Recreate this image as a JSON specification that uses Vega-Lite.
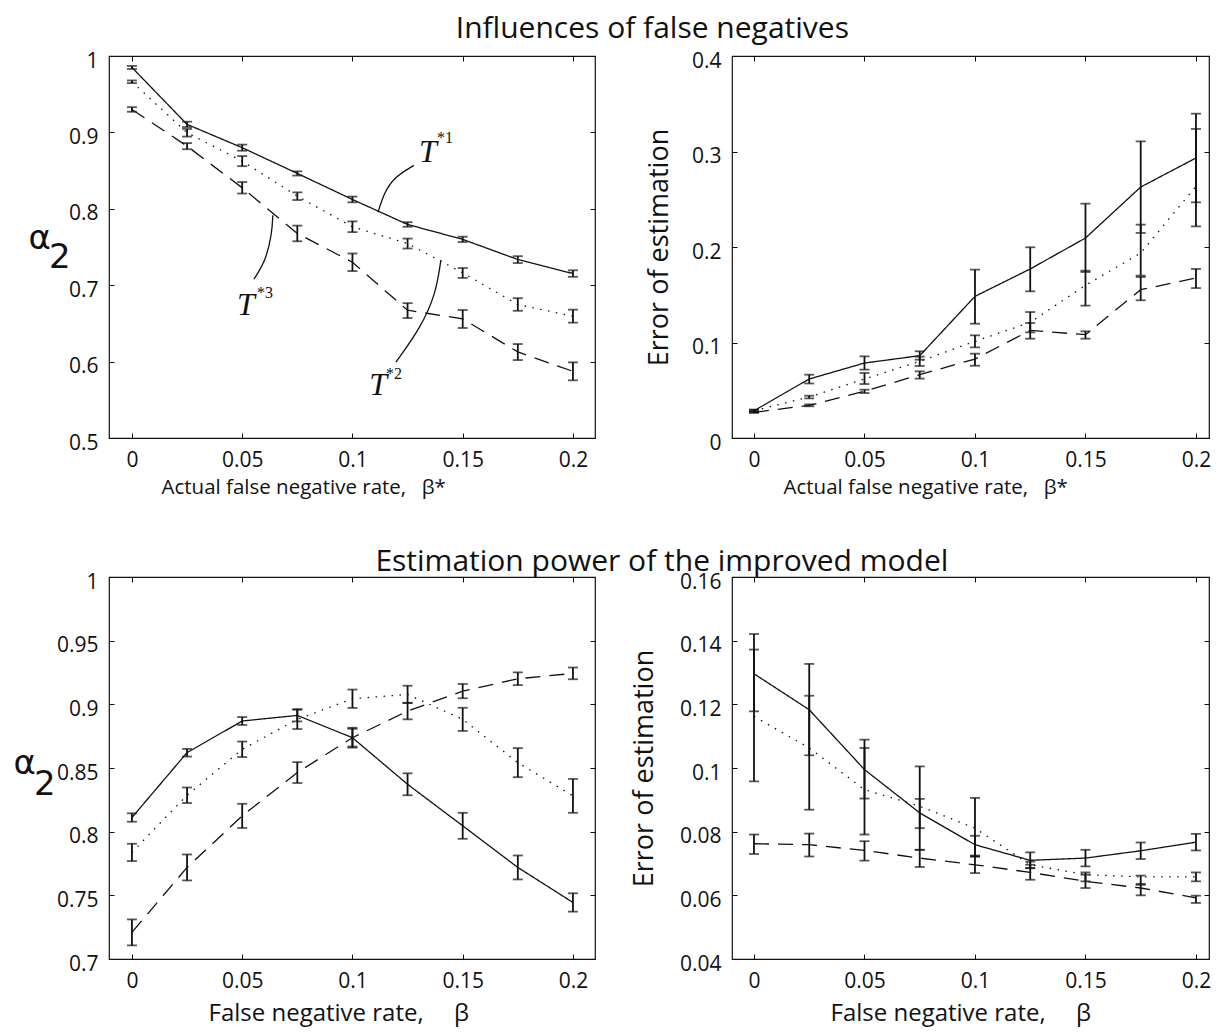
{
  "$schema": "https://vega.github.io/schema/vega-lite/v6.json",
  "padding": {"left": 12, "top": 14, "right": 10, "bottom": 2},
  "background": "white",
  "config": {
    "view": {"stroke": "#111", "strokeWidth": 1.2},
    "axis": {"grid": false, "domain": false, "tickSize": -5, "tickColor": "#111", "tickWidth": 1, "labelColor": "#111", "labelFontSize": 21, "labelFont": "Open Sans", "titleFont": "Open Sans", "titleFontSize": 22, "titleFontWeight": "normal", "titleColor": "#111", "labelPadding": 16},
    "axisY": {"labelOffset": 5},
    "title": {"font": "Open Sans", "fontSize": 30, "fontWeight": "normal", "color": "#111", "anchor": "middle"}
  },
  "datasets": {
    "d": [
      {"p":"TL","s":"T1","x":0,"y":0.985,"lo":0.983,"hi":0.987},
      {"p":"TL","s":"T1","x":0.025,"y":0.9105,"lo":0.907,"hi":0.914},
      {"p":"TL","s":"T1","x":0.05,"y":0.88,"lo":0.876,"hi":0.884},
      {"p":"TL","s":"T1","x":0.075,"y":0.8463,"lo":0.8435,"hi":0.849},
      {"p":"TL","s":"T1","x":0.1,"y":0.8122,"lo":0.8085,"hi":0.816},
      {"p":"TL","s":"T1","x":0.125,"y":0.7795,"lo":0.7765,"hi":0.7825},
      {"p":"TL","s":"T1","x":0.15,"y":0.76,"lo":0.7565,"hi":0.7635},
      {"p":"TL","s":"T1","x":0.175,"y":0.7336,"lo":0.729,"hi":0.738},
      {"p":"TL","s":"T1","x":0.2,"y":0.7153,"lo":0.711,"hi":0.7195},
      {"p":"TL","s":"T2","x":0,"y":0.9664,"lo":0.9645,"hi":0.968},
      {"p":"TL","s":"T2","x":0.025,"y":0.8996,"lo":0.8945,"hi":0.9045},
      {"p":"TL","s":"T2","x":0.05,"y":0.8624,"lo":0.8558,"hi":0.869},
      {"p":"TL","s":"T2","x":0.075,"y":0.8166,"lo":0.8115,"hi":0.8215},
      {"p":"TL","s":"T2","x":0.1,"y":0.7764,"lo":0.7695,"hi":0.7835},
      {"p":"TL","s":"T2","x":0.125,"y":0.7546,"lo":0.748,"hi":0.761},
      {"p":"TL","s":"T2","x":0.15,"y":0.7162,"lo":0.7095,"hi":0.7225},
      {"p":"TL","s":"T2","x":0.175,"y":0.6747,"lo":0.6665,"hi":0.683},
      {"p":"TL","s":"T2","x":0.2,"y":0.6594,"lo":0.651,"hi":0.668},
      {"p":"TL","s":"T3","x":0,"y":0.93,"lo":0.927,"hi":0.933},
      {"p":"TL","s":"T3","x":0.025,"y":0.882,"lo":0.878,"hi":0.886},
      {"p":"TL","s":"T3","x":0.05,"y":0.8275,"lo":0.82,"hi":0.835},
      {"p":"TL","s":"T3","x":0.075,"y":0.7677,"lo":0.7575,"hi":0.778},
      {"p":"TL","s":"T3","x":0.1,"y":0.7301,"lo":0.7185,"hi":0.7415},
      {"p":"TL","s":"T3","x":0.125,"y":0.6672,"lo":0.657,"hi":0.6765},
      {"p":"TL","s":"T3","x":0.15,"y":0.6559,"lo":0.644,"hi":0.6675},
      {"p":"TL","s":"T3","x":0.175,"y":0.6127,"lo":0.602,"hi":0.623},
      {"p":"TL","s":"T3","x":0.2,"y":0.5873,"lo":0.5755,"hi":0.599},

      {"p":"TR","s":"T1","x":0,"y":0.0286,"lo":0.0276,"hi":0.0296},
      {"p":"TR","s":"T1","x":0.025,"y":0.0618,"lo":0.0571,"hi":0.0663},
      {"p":"TR","s":"T1","x":0.05,"y":0.0785,"lo":0.0716,"hi":0.0855},
      {"p":"TR","s":"T1","x":0.075,"y":0.0862,"lo":0.082,"hi":0.0908},
      {"p":"TR","s":"T1","x":0.1,"y":0.1483,"lo":0.1197,"hi":0.1763},
      {"p":"TR","s":"T1","x":0.125,"y":0.177,"lo":0.1536,"hi":0.1997},
      {"p":"TR","s":"T1","x":0.15,"y":0.2094,"lo":0.1738,"hi":0.2454},
      {"p":"TR","s":"T1","x":0.175,"y":0.2628,"lo":0.2147,"hi":0.3106},
      {"p":"TR","s":"T1","x":0.2,"y":0.2932,"lo":0.2468,"hi":0.3396},
      {"p":"TR","s":"T2","x":0,"y":0.0286,"lo":0.0276,"hi":0.0296},
      {"p":"TR","s":"T2","x":0.025,"y":0.0429,"lo":0.0415,"hi":0.0443},
      {"p":"TR","s":"T2","x":0.05,"y":0.0618,"lo":0.0565,"hi":0.0681},
      {"p":"TR","s":"T2","x":0.075,"y":0.0803,"lo":0.0754,"hi":0.0852},
      {"p":"TR","s":"T2","x":0.1,"y":0.1012,"lo":0.0949,"hi":0.1075},
      {"p":"TR","s":"T2","x":0.125,"y":0.1211,"lo":0.1106,"hi":0.1319},
      {"p":"TR","s":"T2","x":0.15,"y":0.1599,"lo":0.1386,"hi":0.1752},
      {"p":"TR","s":"T2","x":0.175,"y":0.1937,"lo":0.17,"hi":0.2234},
      {"p":"TR","s":"T2","x":0.2,"y":0.2635,"lo":0.2216,"hi":0.3236},
      {"p":"TR","s":"T3","x":0,"y":0.0269,"lo":0.0262,"hi":0.0276},
      {"p":"TR","s":"T3","x":0.025,"y":0.0342,"lo":0.0332,"hi":0.0352},
      {"p":"TR","s":"T3","x":0.05,"y":0.0489,"lo":0.0471,"hi":0.0506},
      {"p":"TR","s":"T3","x":0.075,"y":0.0663,"lo":0.0622,"hi":0.0698},
      {"p":"TR","s":"T3","x":0.1,"y":0.0827,"lo":0.0757,"hi":0.0883},
      {"p":"TR","s":"T3","x":0.125,"y":0.1127,"lo":0.104,"hi":0.1204},
      {"p":"TR","s":"T3","x":0.15,"y":0.1082,"lo":0.104,"hi":0.1117},
      {"p":"TR","s":"T3","x":0.175,"y":0.1553,"lo":0.1442,"hi":0.1686},
      {"p":"TR","s":"T3","x":0.2,"y":0.1675,"lo":0.157,"hi":0.177},

      {"p":"BL","s":"T1","x":0,"y":0.8111,"lo":0.8078,"hi":0.8144},
      {"p":"BL","s":"T1","x":0.025,"y":0.8621,"lo":0.859,"hi":0.865},
      {"p":"BL","s":"T1","x":0.05,"y":0.8869,"lo":0.8838,"hi":0.89},
      {"p":"BL","s":"T1","x":0.075,"y":0.8913,"lo":0.8866,"hi":0.8962},
      {"p":"BL","s":"T1","x":0.1,"y":0.8738,"lo":0.866,"hi":0.8816},
      {"p":"BL","s":"T1","x":0.125,"y":0.8372,"lo":0.8286,"hi":0.8458},
      {"p":"BL","s":"T1","x":0.15,"y":0.8046,"lo":0.7944,"hi":0.8148},
      {"p":"BL","s":"T1","x":0.175,"y":0.7719,"lo":0.7625,"hi":0.7813},
      {"p":"BL","s":"T1","x":0.2,"y":0.7444,"lo":0.7372,"hi":0.7516},
      {"p":"BL","s":"T2","x":0,"y":0.7837,"lo":0.7769,"hi":0.7905},
      {"p":"BL","s":"T2","x":0.025,"y":0.8286,"lo":0.8225,"hi":0.8347},
      {"p":"BL","s":"T2","x":0.05,"y":0.8647,"lo":0.8586,"hi":0.8708},
      {"p":"BL","s":"T2","x":0.075,"y":0.8882,"lo":0.8806,"hi":0.8958},
      {"p":"BL","s":"T2","x":0.1,"y":0.9044,"lo":0.8972,"hi":0.9116},
      {"p":"BL","s":"T2","x":0.125,"y":0.9078,"lo":0.901,"hi":0.9146},
      {"p":"BL","s":"T2","x":0.15,"y":0.8882,"lo":0.8791,"hi":0.8973},
      {"p":"BL","s":"T2","x":0.175,"y":0.8542,"lo":0.8428,"hi":0.8656},
      {"p":"BL","s":"T2","x":0.2,"y":0.8281,"lo":0.8148,"hi":0.8414},
      {"p":"BL","s":"T3","x":0,"y":0.7209,"lo":0.7107,"hi":0.7311},
      {"p":"BL","s":"T3","x":0.025,"y":0.7719,"lo":0.7617,"hi":0.7821},
      {"p":"BL","s":"T3","x":0.05,"y":0.8124,"lo":0.8029,"hi":0.8219},
      {"p":"BL","s":"T3","x":0.075,"y":0.8464,"lo":0.8382,"hi":0.8546},
      {"p":"BL","s":"T3","x":0.1,"y":0.8738,"lo":0.8668,"hi":0.8808},
      {"p":"BL","s":"T3","x":0.125,"y":0.8947,"lo":0.8882,"hi":0.9012},
      {"p":"BL","s":"T3","x":0.15,"y":0.9104,"lo":0.9048,"hi":0.916},
      {"p":"BL","s":"T3","x":0.175,"y":0.9201,"lo":0.9151,"hi":0.9251},
      {"p":"BL","s":"T3","x":0.2,"y":0.9243,"lo":0.9197,"hi":0.9289},

      {"p":"BR","s":"T1","x":0,"y":0.1296,"lo":0.1178,"hi":0.1372},
      {"p":"BR","s":"T1","x":0.025,"y":0.1183,"lo":0.104,"hi":0.1227},
      {"p":"BR","s":"T1","x":0.05,"y":0.0995,"lo":0.0904,"hi":0.1063},
      {"p":"BR","s":"T1","x":0.075,"y":0.0859,"lo":0.0811,"hi":0.0903},
      {"p":"BR","s":"T1","x":0.1,"y":0.0759,"lo":0.0722,"hi":0.0787},
      {"p":"BR","s":"T1","x":0.125,"y":0.071,"lo":0.0685,"hi":0.0735},
      {"p":"BR","s":"T1","x":0.15,"y":0.0717,"lo":0.0691,"hi":0.0743},
      {"p":"BR","s":"T1","x":0.175,"y":0.074,"lo":0.0714,"hi":0.0766},
      {"p":"BR","s":"T1","x":0.2,"y":0.0767,"lo":0.0741,"hi":0.0793},
      {"p":"BR","s":"T2","x":0,"y":0.1162,"lo":0.0958,"hi":0.1421},
      {"p":"BR","s":"T2","x":0.025,"y":0.1063,"lo":0.0869,"hi":0.1327},
      {"p":"BR","s":"T2","x":0.05,"y":0.0932,"lo":0.0791,"hi":0.1089},
      {"p":"BR","s":"T2","x":0.075,"y":0.088,"lo":0.0743,"hi":0.1005},
      {"p":"BR","s":"T2","x":0.1,"y":0.0811,"lo":0.0722,"hi":0.0906},
      {"p":"BR","s":"T2","x":0.125,"y":0.0696,"lo":0.0686,"hi":0.0706},
      {"p":"BR","s":"T2","x":0.15,"y":0.0665,"lo":0.0644,"hi":0.0672},
      {"p":"BR","s":"T2","x":0.175,"y":0.0658,"lo":0.0633,"hi":0.0662},
      {"p":"BR","s":"T2","x":0.2,"y":0.0658,"lo":0.0644,"hi":0.0672},
      {"p":"BR","s":"T3","x":0,"y":0.0762,"lo":0.073,"hi":0.0791},
      {"p":"BR","s":"T3","x":0.025,"y":0.0759,"lo":0.0722,"hi":0.0794},
      {"p":"BR","s":"T3","x":0.05,"y":0.0741,"lo":0.0709,"hi":0.077},
      {"p":"BR","s":"T3","x":0.075,"y":0.0717,"lo":0.0689,"hi":0.0743},
      {"p":"BR","s":"T3","x":0.1,"y":0.0696,"lo":0.067,"hi":0.0725},
      {"p":"BR","s":"T3","x":0.125,"y":0.0672,"lo":0.0649,"hi":0.0696},
      {"p":"BR","s":"T3","x":0.15,"y":0.0644,"lo":0.0623,"hi":0.0665},
      {"p":"BR","s":"T3","x":0.175,"y":0.0623,"lo":0.06,"hi":0.0636},
      {"p":"BR","s":"T3","x":0.2,"y":0.0592,"lo":0.0576,"hi":0.0599}
    ],
    "lbl": [
      {"name":"T1","x":0.1342,"y":0.8739,"sx":0.142,"sy":0.8922,"sup":"*1"},
      {"name":"T2","x":0.1116,"y":0.5693,"sx":0.1188,"sy":0.5837,"sup":"*2"},
      {"name":"T3","x":0.0517,"y":0.6739,"sx":0.0603,"sy":0.6895,"sup":"*3"}
    ],
    "lead": [
      {"g":"L1","o":1,"x":0.1279,"y":0.8569},
      {"g":"L1","o":2,"x":0.1188,"y":0.8412},
      {"g":"L1","o":3,"x":0.1143,"y":0.8203},
      {"g":"L1","o":4,"x":0.1116,"y":0.7954},
      {"g":"L3","o":1,"x":0.0553,"y":0.7078},
      {"g":"L3","o":2,"x":0.0608,"y":0.7327},
      {"g":"L3","o":3,"x":0.0635,"y":0.768},
      {"g":"L3","o":4,"x":0.0639,"y":0.7915},
      {"g":"L2","o":1,"x":0.1197,"y":0.5993},
      {"g":"L2","o":2,"x":0.1311,"y":0.6451},
      {"g":"L2","o":3,"x":0.1379,"y":0.6895},
      {"g":"L2","o":4,"x":0.1401,"y":0.7327}
    ]
  },
  "spacing": 48,
  "vconcat": [
    {
      "title": {"text": "Influences of false negatives", "offset": 5, "dx": 33},
      "spacing": 47,
      "hconcat": [
        {
          "width": 486, "height": 382,
          "resolve": {"axis": {"x": "independent", "y": "independent"}},
          "layer": [
            {
              "data": {"name": "d"}, "transform": [{"filter": "datum.p == 'TL'"}],
              "mark": {"type": "line", "color": "#111", "strokeWidth": 1.3},
              "encoding": {
                "x": {"field": "x", "type": "quantitative", "scale": {"domain": [-0.0104, 0.21], "nice": false, "zero": false}, "axis": {"values": [0, 0.05, 0.1, 0.15, 0.2], "format": "~g", "title": "Actual false negative rate,\u2002 β*", "titleFontSize": 20.5, "titlePadding": 7, "titleAlign": "left", "titleX": 52}},
                "y": {"field": "y", "type": "quantitative", "scale": {"domain": [0.5, 1], "nice": false, "zero": false}, "axis": {"values": [0.5, 0.6, 0.7, 0.8, 0.9, 1], "format": "~g", "title": ["α", "\u200b\u2002\u200a2"], "titleFont": "DejaVu Sans", "titleFontSize": 34, "titleLineHeight": 19, "titleAngle": 0, "titleAlign": "left", "titleBaseline": "alphabetic", "titleX": -81, "titleY": 192}},
                "strokeDash": {"field": "s", "type": "nominal", "scale": {"domain": ["T1", "T2", "T3"], "range": [[1, 0], [1.5, 6.5], [15, 9]]}, "legend": null}
              }
            },
            {
              "data": {"name": "d"}, "transform": [{"filter": "datum.p == 'TL'"}],
              "mark": {"type": "rule", "color": "#111", "strokeWidth": 1.8},
              "encoding": {
                "x": {"field": "x", "type": "quantitative", "scale": {"domain": [-0.0104, 0.21], "nice": false, "zero": false}, "axis": {"orient": "top", "labels": false, "title": null, "values": [0, 0.05, 0.1, 0.15, 0.2], "labelPadding": 0, "minExtent": 0, "maxExtent": 0}},
                "y": {"field": "lo", "type": "quantitative", "scale": {"domain": [0.5, 1], "nice": false, "zero": false}, "axis": {"orient": "right", "labels": false, "title": null, "values": [0.5, 0.6, 0.7, 0.8, 0.9, 1], "labelPadding": 0, "minExtent": 0, "maxExtent": 0}},
                "y2": {"field": "hi"}
              }
            },
            {
              "data": {"name": "d"}, "transform": [{"filter": "datum.p == 'TL'"}],
              "mark": {"type": "tick", "orient": "horizontal", "size": 10, "thickness": 1.8, "color": "#111"},
              "encoding": {
                "x": {"field": "x", "type": "quantitative", "scale": {"domain": [-0.0104, 0.21], "nice": false, "zero": false}, "axis": null},
                "y": {"field": "lo", "type": "quantitative", "scale": {"domain": [0.5, 1], "nice": false, "zero": false}, "axis": null}
              }
            },
            {
              "data": {"name": "d"}, "transform": [{"filter": "datum.p == 'TL'"}],
              "mark": {"type": "tick", "orient": "horizontal", "size": 10, "thickness": 1.8, "color": "#111"},
              "encoding": {
                "x": {"field": "x", "type": "quantitative", "scale": {"domain": [-0.0104, 0.21], "nice": false, "zero": false}, "axis": null},
                "y": {"field": "hi", "type": "quantitative", "scale": {"domain": [0.5, 1], "nice": false, "zero": false}, "axis": null}
              }
            },
            {
              "data": {"name": "lead"},
              "mark": {"type": "line", "color": "#111", "strokeWidth": 1.3, "interpolate": "basis"},
              "encoding": {
                "x": {"field": "x", "type": "quantitative", "scale": {"domain": [-0.0104, 0.21], "nice": false, "zero": false}, "axis": null},
                "y": {"field": "y", "type": "quantitative", "scale": {"domain": [0.5, 1], "nice": false, "zero": false}, "axis": null},
                "detail": {"field": "g"},
                "order": {"field": "o"}
              }
            },
            {
              "data": {"name": "lbl"},
              "mark": {"type": "text", "font": "Liberation Serif", "fontStyle": "italic", "fontSize": 32, "color": "#111", "align": "center", "baseline": "middle"},
              "encoding": {
                "x": {"field": "x", "type": "quantitative", "scale": {"domain": [-0.0104, 0.21], "nice": false, "zero": false}, "axis": null},
                "y": {"field": "y", "type": "quantitative", "scale": {"domain": [0.5, 1], "nice": false, "zero": false}, "axis": null},
                "text": {"value": "T"}
              }
            },
            {
              "data": {"name": "lbl"},
              "mark": {"type": "text", "font": "Liberation Serif", "fontSize": 16, "color": "#111", "align": "center", "baseline": "middle"},
              "encoding": {
                "x": {"field": "sx", "type": "quantitative", "scale": {"domain": [-0.0104, 0.21], "nice": false, "zero": false}, "axis": null},
                "y": {"field": "sy", "type": "quantitative", "scale": {"domain": [0.5, 1], "nice": false, "zero": false}, "axis": null},
                "text": {"field": "sup"}
              }
            }
          ]
        },
        {
          "width": 477, "height": 382,
          "resolve": {"axis": {"x": "independent", "y": "independent"}},
          "layer": [
            {
              "data": {"name": "d"}, "transform": [{"filter": "datum.p == 'TR'"}],
              "mark": {"type": "line", "color": "#111", "strokeWidth": 1.3},
              "encoding": {
                "x": {"field": "x", "type": "quantitative", "scale": {"domain": [-0.00995, 0.2059], "nice": false, "zero": false}, "axis": {"values": [0, 0.05, 0.1, 0.15, 0.2], "format": "~g", "title": "Actual false negative rate,\u2002 β*", "titleFontSize": 20.5, "titlePadding": 7, "titleAlign": "left", "titleX": 51}},
                "y": {"field": "y", "type": "quantitative", "scale": {"domain": [0, 0.4], "nice": false, "zero": false}, "axis": {"values": [0, 0.1, 0.2, 0.3, 0.4], "format": "~g", "title": "Error of estimation", "titleFontSize": 27, "titlePadding": 18}},
                "strokeDash": {"field": "s", "type": "nominal", "scale": {"domain": ["T1", "T2", "T3"], "range": [[1, 0], [1.5, 6.5], [15, 9]]}, "legend": null}
              }
            },
            {
              "data": {"name": "d"}, "transform": [{"filter": "datum.p == 'TR'"}],
              "mark": {"type": "rule", "color": "#111", "strokeWidth": 1.8},
              "encoding": {
                "x": {"field": "x", "type": "quantitative", "scale": {"domain": [-0.00995, 0.2059], "nice": false, "zero": false}, "axis": {"orient": "top", "labels": false, "title": null, "values": [0, 0.05, 0.1, 0.15, 0.2], "labelPadding": 0, "minExtent": 0, "maxExtent": 0}},
                "y": {"field": "lo", "type": "quantitative", "scale": {"domain": [0, 0.4], "nice": false, "zero": false}, "axis": {"orient": "right", "labels": false, "title": null, "values": [0, 0.1, 0.2, 0.3, 0.4], "labelPadding": 0, "minExtent": 0, "maxExtent": 0}},
                "y2": {"field": "hi"}
              }
            },
            {
              "data": {"name": "d"}, "transform": [{"filter": "datum.p == 'TR'"}],
              "mark": {"type": "tick", "orient": "horizontal", "size": 10, "thickness": 1.8, "color": "#111"},
              "encoding": {
                "x": {"field": "x", "type": "quantitative", "scale": {"domain": [-0.00995, 0.2059], "nice": false, "zero": false}, "axis": null},
                "y": {"field": "lo", "type": "quantitative", "scale": {"domain": [0, 0.4], "nice": false, "zero": false}, "axis": null}
              }
            },
            {
              "data": {"name": "d"}, "transform": [{"filter": "datum.p == 'TR'"}],
              "mark": {"type": "tick", "orient": "horizontal", "size": 10, "thickness": 1.8, "color": "#111"},
              "encoding": {
                "x": {"field": "x", "type": "quantitative", "scale": {"domain": [-0.00995, 0.2059], "nice": false, "zero": false}, "axis": null},
                "y": {"field": "hi", "type": "quantitative", "scale": {"domain": [0, 0.4], "nice": false, "zero": false}, "axis": null}
              }
            }
          ]
        }
      ]
    },
    {
      "title": {"text": "Estimation power of the improved model", "offset": -7, "dx": 50},
      "spacing": 32,
      "hconcat": [
        {
          "width": 486, "height": 382,
          "resolve": {"axis": {"x": "independent", "y": "independent"}},
          "layer": [
            {
              "data": {"name": "d"}, "transform": [{"filter": "datum.p == 'BL'"}],
              "mark": {"type": "line", "color": "#111", "strokeWidth": 1.3},
              "encoding": {
                "x": {"field": "x", "type": "quantitative", "scale": {"domain": [-0.0104, 0.21], "nice": false, "zero": false}, "axis": {"values": [0, 0.05, 0.1, 0.15, 0.2], "format": "~g", "title": "False negative rate,\u2003 β", "titleFontSize": 24, "titlePadding": 10, "titleAlign": "left", "titleX": 99}},
                "y": {"field": "y", "type": "quantitative", "scale": {"domain": [0.7, 1], "nice": false, "zero": false}, "axis": {"values": [0.7, 0.75, 0.8, 0.85, 0.9, 0.95, 1], "format": "~g", "title": ["α", "\u200b\u2002\u200a2"], "titleFont": "DejaVu Sans", "titleFontSize": 34, "titleLineHeight": 21, "titleAngle": 0, "titleAlign": "left", "titleBaseline": "alphabetic", "titleX": -96, "titleY": 196}},
                "strokeDash": {"field": "s", "type": "nominal", "scale": {"domain": ["T1", "T2", "T3"], "range": [[1, 0], [1.5, 6.5], [15, 9]]}, "legend": null}
              }
            },
            {
              "data": {"name": "d"}, "transform": [{"filter": "datum.p == 'BL'"}],
              "mark": {"type": "rule", "color": "#111", "strokeWidth": 1.8},
              "encoding": {
                "x": {"field": "x", "type": "quantitative", "scale": {"domain": [-0.0104, 0.21], "nice": false, "zero": false}, "axis": {"orient": "top", "labels": false, "title": null, "values": [0, 0.05, 0.1, 0.15, 0.2], "labelPadding": 0, "minExtent": 0, "maxExtent": 0}},
                "y": {"field": "lo", "type": "quantitative", "scale": {"domain": [0.7, 1], "nice": false, "zero": false}, "axis": {"orient": "right", "labels": false, "title": null, "values": [0.7, 0.75, 0.8, 0.85, 0.9, 0.95, 1], "labelPadding": 0, "minExtent": 0, "maxExtent": 0}},
                "y2": {"field": "hi"}
              }
            },
            {
              "data": {"name": "d"}, "transform": [{"filter": "datum.p == 'BL'"}],
              "mark": {"type": "tick", "orient": "horizontal", "size": 10, "thickness": 1.8, "color": "#111"},
              "encoding": {
                "x": {"field": "x", "type": "quantitative", "scale": {"domain": [-0.0104, 0.21], "nice": false, "zero": false}, "axis": null},
                "y": {"field": "lo", "type": "quantitative", "scale": {"domain": [0.7, 1], "nice": false, "zero": false}, "axis": null}
              }
            },
            {
              "data": {"name": "d"}, "transform": [{"filter": "datum.p == 'BL'"}],
              "mark": {"type": "tick", "orient": "horizontal", "size": 10, "thickness": 1.8, "color": "#111"},
              "encoding": {
                "x": {"field": "x", "type": "quantitative", "scale": {"domain": [-0.0104, 0.21], "nice": false, "zero": false}, "axis": null},
                "y": {"field": "hi", "type": "quantitative", "scale": {"domain": [0.7, 1], "nice": false, "zero": false}, "axis": null}
              }
            }
          ]
        },
        {
          "width": 477, "height": 382,
          "resolve": {"axis": {"x": "independent", "y": "independent"}},
          "layer": [
            {
              "data": {"name": "d"}, "transform": [{"filter": "datum.p == 'BR'"}],
              "mark": {"type": "line", "color": "#111", "strokeWidth": 1.3},
              "encoding": {
                "x": {"field": "x", "type": "quantitative", "scale": {"domain": [-0.00995, 0.2059], "nice": false, "zero": false}, "axis": {"values": [0, 0.05, 0.1, 0.15, 0.2], "format": "~g", "title": "False negative rate,\u2003 β", "titleFontSize": 24, "titlePadding": 10, "titleAlign": "left", "titleX": 98}},
                "y": {"field": "y", "type": "quantitative", "scale": {"domain": [0.04, 0.16], "nice": false, "zero": false}, "axis": {"values": [0.04, 0.06, 0.08, 0.1, 0.12, 0.14, 0.16], "format": "~g", "title": "Error of estimation", "titleFontSize": 27, "titlePadding": 21}},
                "strokeDash": {"field": "s", "type": "nominal", "scale": {"domain": ["T1", "T2", "T3"], "range": [[1, 0], [1.5, 6.5], [15, 9]]}, "legend": null}
              }
            },
            {
              "data": {"name": "d"}, "transform": [{"filter": "datum.p == 'BR'"}],
              "mark": {"type": "rule", "color": "#111", "strokeWidth": 1.8},
              "encoding": {
                "x": {"field": "x", "type": "quantitative", "scale": {"domain": [-0.00995, 0.2059], "nice": false, "zero": false}, "axis": {"orient": "top", "labels": false, "title": null, "values": [0, 0.05, 0.1, 0.15, 0.2], "labelPadding": 0, "minExtent": 0, "maxExtent": 0}},
                "y": {"field": "lo", "type": "quantitative", "scale": {"domain": [0.04, 0.16], "nice": false, "zero": false}, "axis": {"orient": "right", "labels": false, "title": null, "values": [0.04, 0.06, 0.08, 0.1, 0.12, 0.14, 0.16], "labelPadding": 0, "minExtent": 0, "maxExtent": 0}},
                "y2": {"field": "hi"}
              }
            },
            {
              "data": {"name": "d"}, "transform": [{"filter": "datum.p == 'BR'"}],
              "mark": {"type": "tick", "orient": "horizontal", "size": 10, "thickness": 1.8, "color": "#111"},
              "encoding": {
                "x": {"field": "x", "type": "quantitative", "scale": {"domain": [-0.00995, 0.2059], "nice": false, "zero": false}, "axis": null},
                "y": {"field": "lo", "type": "quantitative", "scale": {"domain": [0.04, 0.16], "nice": false, "zero": false}, "axis": null}
              }
            },
            {
              "data": {"name": "d"}, "transform": [{"filter": "datum.p == 'BR'"}],
              "mark": {"type": "tick", "orient": "horizontal", "size": 10, "thickness": 1.8, "color": "#111"},
              "encoding": {
                "x": {"field": "x", "type": "quantitative", "scale": {"domain": [-0.00995, 0.2059], "nice": false, "zero": false}, "axis": null},
                "y": {"field": "hi", "type": "quantitative", "scale": {"domain": [0.04, 0.16], "nice": false, "zero": false}, "axis": null}
              }
            }
          ]
        }
      ]
    }
  ]
}
